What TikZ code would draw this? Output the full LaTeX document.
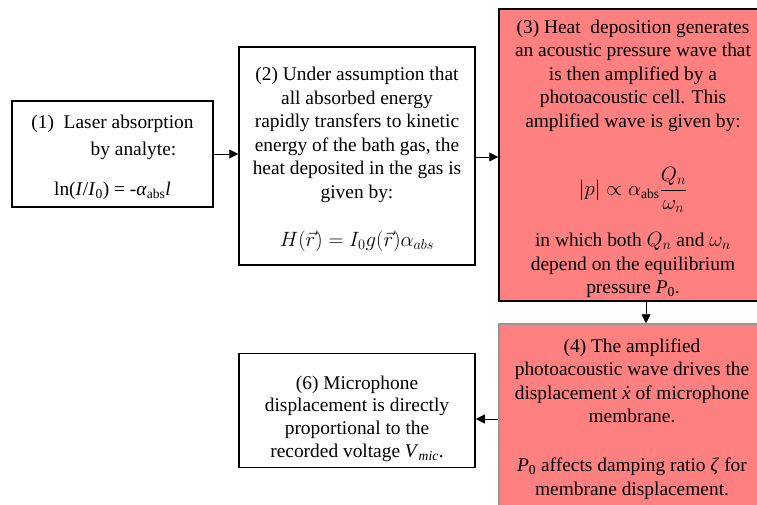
\documentclass[tikz,border=0pt]{standalone}
\usepackage{amsmath}
\usepackage{fontspec}
\setmainfont{Liberation Serif}
\usetikzlibrary{arrows.meta}
\definecolor{boxred}{RGB}{255,128,128}
\definecolor{boxgray}{RGB}{150,150,150}
\newcommand{\tallstart}[1]{\rule{0pt}{\dimexpr 13.5pt+#1\relax}}
\begin{document}
\begin{tikzpicture}[x=1pt,y=-1pt,
  every node/.style={font=\fontsize{19.4}{23.5}\selectfont, inner sep=0pt, align=center},
  plainbox/.style={draw=black, line width=1.5pt, fill=white},
  redbox/.style={draw=black, line width=1.5pt, fill=boxred},
  graybox/.style={draw=boxgray, line width=1.5pt, fill=boxred},
  conn/.style={line width=0.9pt, -{Triangle[length=9pt,width=9pt]}}]
\clip (0,0) rectangle (757,505);
\fill[white] (0,0) rectangle (757,505);
\node[plainbox, minimum width=201pt, minimum height=106pt] (b1) at (112.5,154)
  {\tallstart{6pt}(1)~~Laser absorption\\[3.5pt]
   \hspace*{42pt}by analyte:\\[16.5pt]
   ln(\textit{I}/\textit{I}\textsubscript{0}) = -\textit{α}\textsubscript{abs}\textit{l}};
\node[plainbox, minimum width=236pt, minimum height=218pt] (b2) at (357,156)
  {\tallstart{7pt}(2) Under assumption that\\
   all absorbed energy\\
   rapidly transfers to kinetic\\
   energy of the bath gas, the\\
   heat deposited in the gas is\\
   given by:\\[25pt]
   $H(\vec{r}) = I_0 g(\vec{r})\alpha_{abs}$};
\node[redbox, minimum width=268pt, minimum height=292pt] (b3) at (633,155)
  {\tallstart{8pt}(3) Heat~ deposition generates\\
   an acoustic pressure wave that\\
   is then amplified by a\\
   photoacoustic cell. This\\
   amplified wave is given by:\\[34.5pt]
   $\lvert p\rvert \propto \alpha_{\mathrm{abs}}\dfrac{Q_n}{\omega_n}$\\[19pt]
   in which both $Q_n$ and $\omega_n$\\
   depend on the equilibrium\\
   pressure \textit{P}\textsubscript{0}.};
\node[graybox, minimum width=266pt, minimum height=190pt] (b4) at (632,419)
  {(4) The amplified\\
   photoacoustic wave drives the\\
   displacement \textit{\.{x}} of microphone\\
   membrane.\\[25.5pt]
   \textit{P}\textsubscript{0} affects damping ratio \textit{ζ} for\\
   membrane displacement.};
\node[plainbox, minimum width=236pt, minimum height=114pt,
      font=\fontsize{19.4}{22.7}\selectfont] (b6) at (357,410.5)
  {\tallstart{16pt}(6) Microphone\\
   displacement is directly\\
   proportional to the\\
   recorded voltage \textit{V}\textsubscript{\textit{mic}}.};
\draw[conn] (b1.east) -- (b1.east -| b2.west);
\draw[conn] ([yshift=-1pt]b2.east) -- ([yshift=-1pt]b2.east -| b3.west);
\draw[conn] ([xshift=13pt]b3.south) -- ([xshift=13pt]b3.south |- b4.north);
\draw[conn] (b4.west) -- (b4.west -| b6.east);
\end{tikzpicture}
\end{document}
